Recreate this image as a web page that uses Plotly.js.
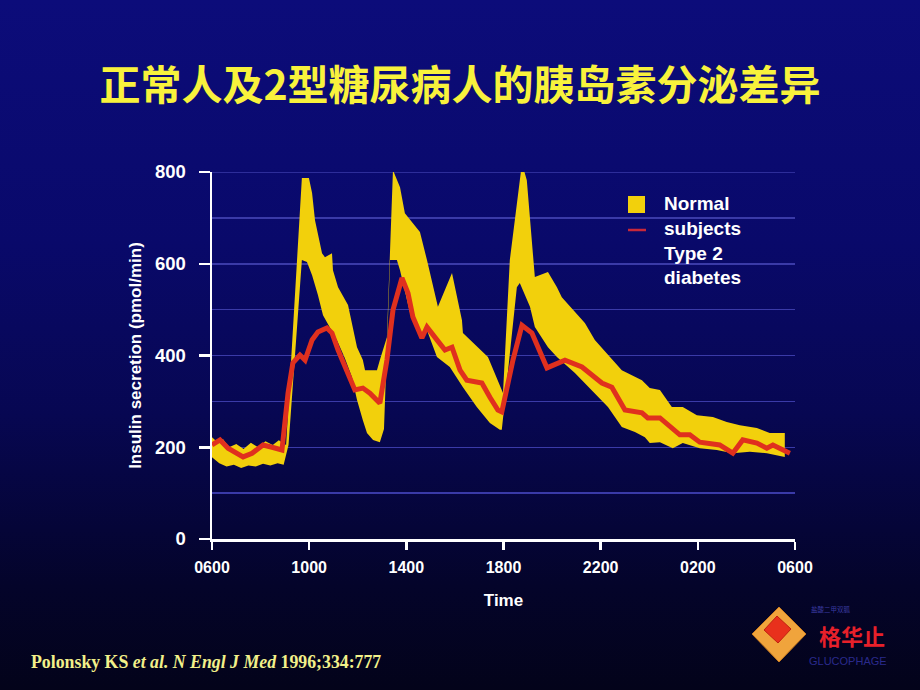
<!DOCTYPE html>
<html>
<head>
<meta charset="utf-8">
<script src="https://cdn.plot.ly/plotly-3.0.1.min.js"></script>
<style>
html,body{margin:0;padding:0;width:920px;height:690px;overflow:hidden;}
body{background:linear-gradient(to bottom,#0c0c7a 0%,#09096a 35%,#070752 60%,#04042a 85%,#03031a 100%);}
#chart{width:920px;height:690px;}
</style>
</head>
<body>
<div id="chart"></div>
<script>
// Hours after 06:00
const upperHours = [0,0.25,0.45,0.7,1.0,1.3,1.6,1.9,2.2,2.5,2.75,3.05,3.70,3.99,4.12,4.24,4.53,4.65,4.94,4.98,5.19,5.60,5.97,6.21,6.30,6.79,6.91,7.20,7.45,7.74,7.94,8.56,8.85,9.30,9.88,10.29,10.33,11.36,11.98,12.26,12.76,12.96,13.29,13.83,14.20,14.40,15.35,15.76,16.87,17.70,18.02,18.44,18.93,19.38,19.96,20.62,21.19,21.73,22.43,22.96,23.58];
const normalUpper = [222,210,218,200,207,196,210,200,213,205,215,205,787,787,754,695,623,614,623,586,549,510,418,390,368,368,390,440,804,767,710,669,608,506,580,477,449,397,318,608,819,782,571,582,549,527,471,434,368,346,329,325,288,288,270,266,255,248,242,231,231];

const lowerHours = [0,0.3,0.6,0.9,1.2,1.5,1.8,2.1,2.4,2.7,2.95,3.15,3.70,3.91,4.12,4.36,4.57,4.86,5.14,5.47,5.76,5.97,6.21,6.38,6.63,6.91,7.08,7.33,7.61,7.74,7.86,8.15,8.44,8.64,8.85,9.26,9.79,10.33,10.9,11.44,11.85,11.93,12.55,12.67,13.09,13.29,13.83,14.2,14.94,15.76,16.3,16.87,17.41,17.82,18.02,18.44,18.97,19.38,20.08,20.78,21.44,22.14,22.84,23.58];
const normalLower = [178,165,158,162,155,160,158,164,160,165,162,205,608,604,575,532,488,460,434,394,353,303,259,231,216,211,240,608,608,586,564,493,471,440,455,397,375,331,288,253,238,238,549,558,506,462,418,397,362,318,288,244,233,222,209,211,198,209,198,194,187,190,187,179];

const type2Hours = [0,0.33,0.66,0.95,1.28,1.65,2.1,2.47,2.88,3.13,3.33,3.62,3.83,4.12,4.36,4.73,4.94,5.19,5.60,5.88,6.21,6.5,6.91,7.2,7.45,7.82,8.07,8.27,8.64,8.85,9.26,9.59,9.88,10.21,10.49,11.11,11.44,11.77,11.93,12.39,12.76,13.17,13.79,14.53,15.23,15.76,16.05,16.46,17.0,17.7,17.94,18.44,19.26,19.67,20.08,20.9,21.44,21.85,22.43,22.84,23.09,23.66,23.79];
const type2 = [205,216,198,190,179,187,205,200,194,318,384,401,390,434,451,460,449,412,362,325,329,318,296,390,499,569,536,484,438,462,434,412,418,368,346,340,309,281,277,390,466,449,373,390,375,353,340,331,281,275,264,264,227,227,211,205,187,216,209,198,205,190,187];

const tickHours = [0,4,8,12,16,20,24];
const tickLabels = ['0600','1000','1400','1800','2200','0200','0600'];

const bandX = upperHours.concat(lowerHours.slice().reverse());
const bandY = normalUpper.concat(normalLower.slice().reverse());

const traces = [
  {x: bandX, y: bandY, type:'scatter', mode:'lines', fill:'toself',
   fillcolor:'#f2d00c', line:{width:0,color:'#f2d00c'}, name:'Normal subjects', showlegend:false, hoverinfo:'skip'},
  {x: type2Hours, y: type2, type:'scatter', mode:'lines',
   line:{color:'#e0301e', width:5}, name:'Type 2 diabetes', showlegend:false}
];

// pixel-to-paper helpers for decorations
const PX0=212, PX1=795, PY0=539, PY1=172;
const px = v => (v-PX0)/(PX1-PX0);
const py = v => (PY0-v)/(PY0-PY1);

const sans = 'Liberation Sans, Arial, sans-serif';

const layout = {
  width:920, height:690,
  paper_bgcolor:'rgba(0,0,0,0)', plot_bgcolor:'rgba(0,0,0,0)',
  margin:{l:PX0, r:920-PX1, t:PY1, b:690-PY0, pad:0},
  showlegend:false,
  title:{text:'<b>正常人及2型糖尿病人的胰岛素分泌差异</b>', x:0.5, xref:'container', y:1-86/690, yref:'container', yanchor:'middle', xanchor:'center',
    font:{family:'Noto Sans CJK SC, sans-serif', size:41, color:'#f8f23c'}},
  xaxis:{range:[0,24], tickvals:tickHours, ticktext:tickLabels, showgrid:false, zeroline:false,
    showline:true, linecolor:'#ffffff', linewidth:2.5, ticks:'outside', ticklen:8, tickwidth:2.5, tickcolor:'#ffffff',
    tickfont:{family:sans, size:16, color:'#ffffff', weight:'bold'}, ticklabelstandoff:4,
    title:{text:'Time', font:{family:sans, size:17, color:'#ffffff', weight:'bold'}, standoff:20}},
  yaxis:{range:[0,800], tickvals:[0,200,400,600,800], showgrid:true, gridcolor:'#3a3aa8', gridwidth:1.5, zeroline:false,
    minor:{dtick:100, showgrid:true, gridcolor:'#3a3aa8', gridwidth:1.5, ticks:''},
    showline:true, linecolor:'#ffffff', linewidth:2.5, ticks:'outside', ticklen:11, tickwidth:2.5, tickcolor:'#ffffff',
    tickfont:{family:sans, size:18.5, color:'#ffffff', weight:'bold'}, ticklabelstandoff:9,
    title:{text:'Insulin secretion (pmol/min)', font:{family:sans, size:17, color:'#ffffff', weight:'bold'}, standoff:9}},
  shapes:[
    // gridline at the top tick
    {type:'line', xref:'paper', yref:'y', x0:0, x1:1, y0:800, y1:800, line:{color:'#3a3aa8', width:1.5}, layer:'below'},
    // legend symbols
    {type:'rect', xref:'paper', yref:'paper', x0:px(628), x1:px(645), y0:py(213), y1:py(196), fillcolor:'#f2d00c', line:{width:0}},
    {type:'line', xref:'paper', yref:'paper', x0:px(628), x1:px(646), y0:py(230), y1:py(230), line:{color:'#c8283a', width:2.5}},
    // logo diamond
    {type:'path', xref:'paper', yref:'paper', path:`M ${px(779)} ${py(607)} L ${px(806)} ${py(634)} L ${px(779)} ${py(662)} L ${px(752)} ${py(634)} Z`,
      fillcolor:'#f0a43c', line:{color:'#c87a20', width:1}},
    {type:'path', xref:'paper', yref:'paper', path:`M ${px(777)} ${py(616)} L ${px(791)} ${py(629)} L ${px(778)} ${py(643)} L ${px(764)} ${py(630)} Z`,
      fillcolor:'#e8301c', line:{color:'#c02010', width:1}}
  ],
  annotations:[
    {text:'<b>Normal</b>', xref:'paper', yref:'paper', x:px(662), y:py(204), xanchor:'left', yanchor:'middle', showarrow:false, font:{family:sans, size:19, color:'#ffffff'}},
    {text:'<b>subjects</b>', xref:'paper', yref:'paper', x:px(662), y:py(228), xanchor:'left', yanchor:'middle', showarrow:false, font:{family:sans, size:19, color:'#ffffff'}},
    {text:'<b>Type 2</b>', xref:'paper', yref:'paper', x:px(662), y:py(253), xanchor:'left', yanchor:'middle', showarrow:false, font:{family:sans, size:19, color:'#ffffff'}},
    {text:'<b>diabetes</b>', xref:'paper', yref:'paper', x:px(662), y:py(277), xanchor:'left', yanchor:'middle', showarrow:false, font:{family:sans, size:19, color:'#ffffff'}},
    {text:'<b>Polonsky KS <i>et al.</i> <i>N Engl J Med</i> 1996;334:777</b>', xref:'paper', yref:'paper', x:px(29), y:py(662), xanchor:'left', yanchor:'middle', showarrow:false,
      font:{family:'Liberation Serif, Times New Roman, serif', size:17.8, color:'#f2f08a'}},
    {text:'<b>格华止</b>', xref:'paper', yref:'paper', x:px(852), y:py(635), xanchor:'center', yanchor:'middle', showarrow:false,
      font:{family:'Noto Sans CJK SC, sans-serif', size:22, color:'#e8202a'}},
    {text:'GLUCOPHAGE', xref:'paper', yref:'paper', x:px(848), y:py(661), xanchor:'center', yanchor:'middle', showarrow:false,
      font:{family:sans, size:11, color:'#2a2a8c'}},
    {text:'盐酸二甲双胍', xref:'paper', yref:'paper', x:px(831), y:py(609), xanchor:'center', yanchor:'middle', showarrow:false,
      font:{family:'Noto Sans CJK SC, sans-serif', size:6.5, color:'#3a3aa0'}}
  ]
};

Plotly.newPlot('chart', traces, layout, {staticPlot:true, displayModeBar:false});
</script>
</body>
</html>
